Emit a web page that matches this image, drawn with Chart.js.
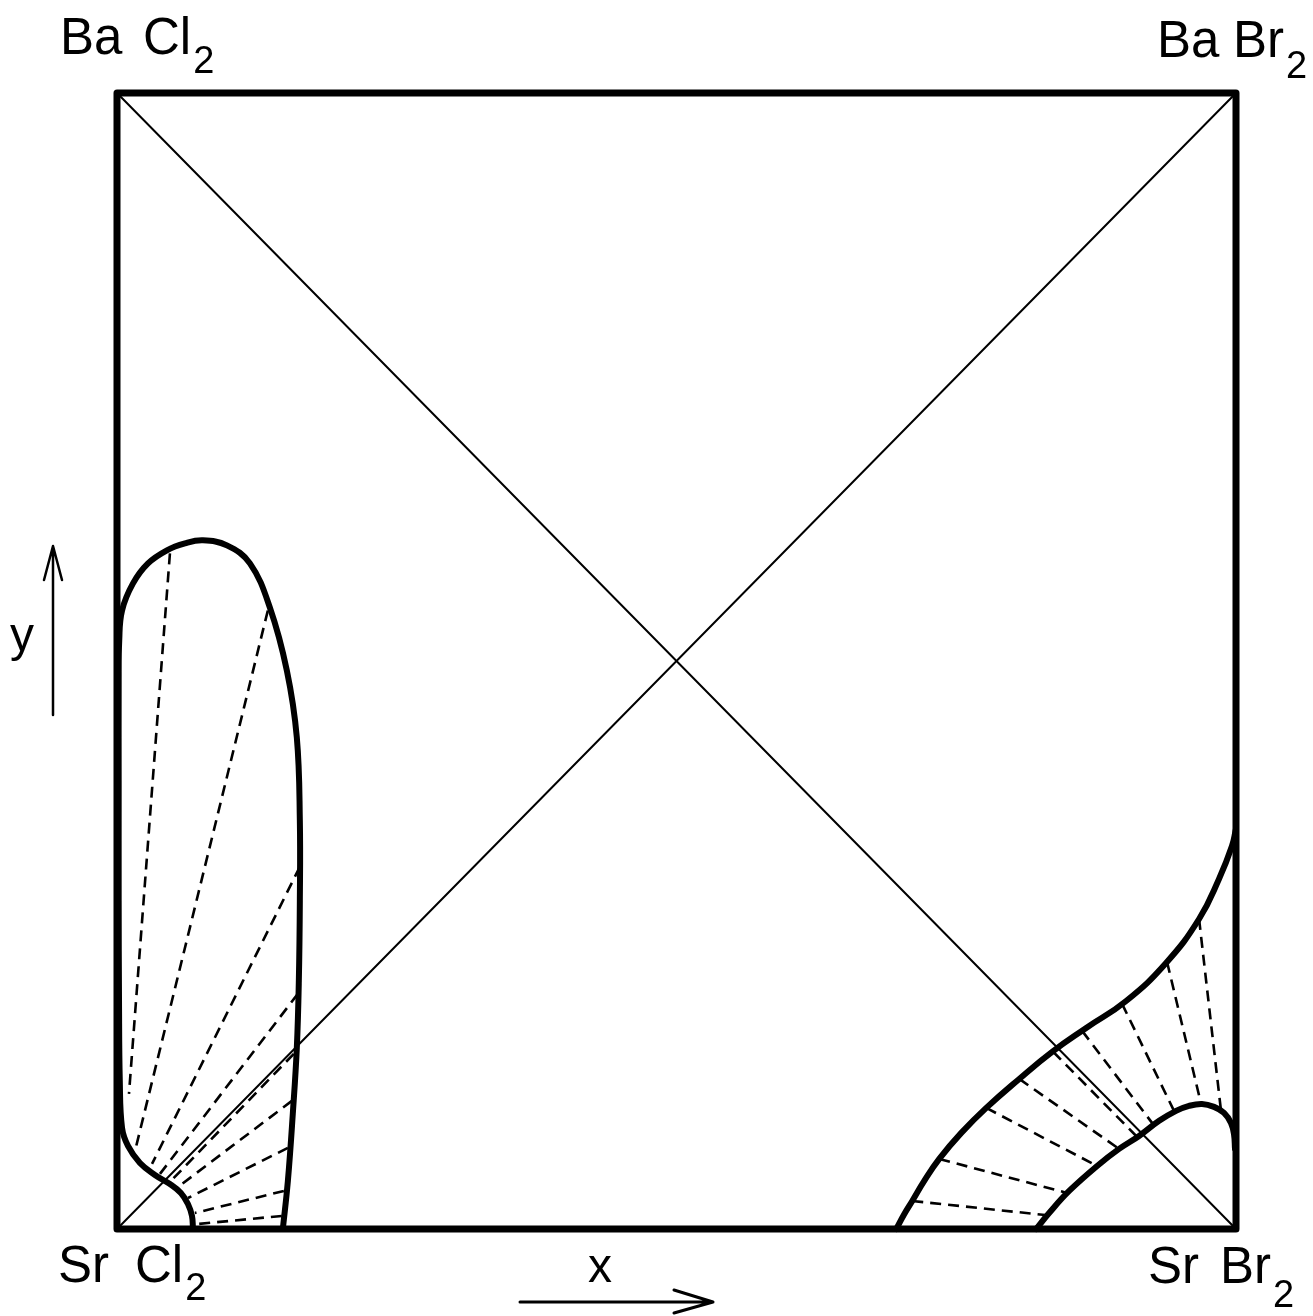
<!DOCTYPE html>
<html>
<head>
<meta charset="utf-8">
<title>BaCl2 - BaBr2 - SrCl2 - SrBr2</title>
<script src="https://cdn.jsdelivr.net/npm/chart.js@4.4.1/dist/chart.umd.min.js"></script>
<style>
  html, body { margin: 0; padding: 0; background: #fff; }
  #wrap { width: 1313px; height: 1316px; }
</style>
</head>
<body>
<div id="wrap"><canvas id="chartCanvas" width="1313" height="1316"></canvas></div>
<script>
// Corner compounds of the reciprocal square: [metal, halide]
var cornerNames = [["Ba", "Cl"], ["Ba", "Br"], ["Sr", "Cl"], ["Sr", "Br"]];

// Miscibility gap near SrCl2 (x = Br fraction, y = Ba fraction)
var leftLobe = [
  [0.0679, 0.0000], [0.0670, 0.0115], [0.0634, 0.0220], [0.0571, 0.0317],
  [0.0473, 0.0396], [0.0339, 0.0476], [0.0205, 0.0581], [0.0098, 0.0731],
  [0.0045, 0.0890], [0.0025, 0.1304], [0.0018, 0.2009], [0.0015, 0.2890],
  [0.0015, 0.3947], [0.0015, 0.4828], [0.0020, 0.5181], [0.0045, 0.5445],
  [0.0143, 0.5683], [0.0277, 0.5859], [0.0446, 0.5974], [0.0607, 0.6035],
  [0.0768, 0.6062], [0.0982, 0.6018], [0.1188, 0.5859], [0.1366, 0.5471],
  [0.1518, 0.4916], [0.1607, 0.4326], [0.1634, 0.3595], [0.1634, 0.2890],
  [0.1625, 0.2185], [0.1607, 0.1595], [0.1571, 0.1013], [0.1527, 0.0423],
  [0.1482, 0.0000]
];

// Miscibility gap near SrBr2: outer and inner boundaries
var rightOuter = [
  [0.6964, 0.0000], [0.7036, 0.0132], [0.7107, 0.0247], [0.7214, 0.0423],
  [0.7348, 0.0617], [0.7545, 0.0846], [0.7768, 0.1066], [0.8063, 0.1321],
  [0.8357, 0.1560], [0.8661, 0.1770], [0.9018, 0.2007], [0.9375, 0.2342],
  [0.9670, 0.2729], [0.9848, 0.3081], [0.9964, 0.3371], [1.0000, 0.3524]
];
var rightInner = [
  [0.8214, 0.0000], [0.8330, 0.0141], [0.8509, 0.0335], [0.8759, 0.0555],
  [0.8955, 0.0705], [0.9134, 0.0819], [0.9313, 0.0952], [0.9464, 0.1040],
  [0.9580, 0.1084], [0.9696, 0.1101], [0.9804, 0.1075], [0.9893, 0.1022],
  [0.9955, 0.0934], [0.9982, 0.0837], [0.9991, 0.0705]
];

// Tie lines, each [x1, y1, x2, y2]
var leftTies = [
  [0.0473, 0.5947, 0.0107, 0.1189],
  [0.1348, 0.5445, 0.0161, 0.0687],
  [0.1634, 0.3189, 0.0313, 0.0573],
  [0.1616, 0.2070, 0.0384, 0.0485],
  [0.1580, 0.1542, 0.0473, 0.0414],
  [0.1563, 0.1128, 0.0545, 0.0370],
  [0.1527, 0.0714, 0.0634, 0.0273],
  [0.1491, 0.0335, 0.0696, 0.0141],
  [0.1473, 0.0115, 0.0723, 0.0044]
];
var rightTies = [
  [0.7107, 0.0247, 0.8295, 0.0123],
  [0.7348, 0.0617, 0.8491, 0.0317],
  [0.7768, 0.1066, 0.8759, 0.0555],
  [0.8063, 0.1321, 0.8955, 0.0705],
  [0.8366, 0.1560, 0.9116, 0.0811],
  [0.8625, 0.1744, 0.9250, 0.0934],
  [0.8982, 0.1982, 0.9446, 0.1040],
  [0.9384, 0.2350, 0.9688, 0.1101],
  [0.9670, 0.2729, 0.9866, 0.1040]
];
// Tie lines lying on the binary edges
var edgeTies = [
  [0.0048, 0.4700, 0.0048, 0.2200],
  [0.0723, 0.0035, 0.1473, 0.0035],
  [0.6990, 0.0035, 0.8190, 0.0035],
  [0.9965, 0.3300, 0.9965, 0.0950]
];

function toPoints(list) {
  return list.map(function(p) { return { x: p[0], y: p[1] }; });
}

function solid(points, width, tension) {
  return {
    data: points,
    borderColor: '#000',
    borderWidth: width,
    tension: tension,
    pointRadius: 0,
    fill: false,
    clip: false,
    borderCapStyle: 'round',
    borderJoinStyle: 'round'
  };
}

function dashed(t, color, width, dash) {
  return {
    data: [{ x: t[0], y: t[1] }, { x: t[2], y: t[3] }],
    borderColor: color,
    borderWidth: width,
    borderDash: dash,
    pointRadius: 0,
    fill: false,
    clip: false
  };
}

var datasets = [];
datasets.push(solid(toPoints([[0, 0], [1, 0], [1, 1], [0, 1], [0, 0]]), 7, 0));
datasets.push(solid(toPoints([[0, 0], [1, 1]]), 2, 0));
datasets.push(solid(toPoints([[0, 1], [1, 0]]), 2, 0));
leftTies.concat(rightTies).forEach(function(t) { datasets.push(dashed(t, '#000', 2.6, [11, 7])); });
datasets.push(solid(toPoints(leftLobe), 6, 0.4));
datasets.push(solid(toPoints(rightOuter), 6, 0.45));
datasets.push(solid(toPoints(rightInner), 6, 0.4));
edgeTies.forEach(function(t) { datasets.push(dashed(t, '#fff', 1.2, [9, 7])); });

// Corner formulas and the x / y arrows
var annotations = {
  id: 'annotations',
  afterDraw: function(chart) {
    var ctx = chart.ctx;
    var a = chart.chartArea;
    var font = '"Liberation Sans", Arial, sans-serif';
    // metal x, halide x, baseline, subscript drop
    var spots = [
      [a.left - 57, a.left + 26, a.top - 39, 19],
      [a.right - 79, a.right - 3, a.top - 36, 21],
      [a.left - 59, a.left + 18, a.bottom + 53, 18],
      [a.right - 88, a.right - 16, a.bottom + 54, 24]
    ];
    ctx.save();
    ctx.fillStyle = '#000';
    ctx.strokeStyle = '#000';
    ctx.textBaseline = 'alphabetic';
    spots.forEach(function(s, i) {
      ctx.font = '51px ' + font;
      ctx.fillText(cornerNames[i][0], s[0], s[2]);
      ctx.fillText(cornerNames[i][1], s[1], s[2]);
      var w = ctx.measureText(cornerNames[i][1]).width;
      ctx.font = '38px ' + font;
      ctx.fillText('2', s[1] + w + 2, s[2] + s[3]);
    });

    ctx.font = '48px ' + font;
    ctx.fillText('y', 10, 651);
    ctx.fillText('x', 588, 1282);

    ctx.lineWidth = 2.5;
    ctx.lineCap = 'round';
    ctx.lineJoin = 'round';
    ctx.beginPath();
    ctx.moveTo(53, 715);
    ctx.lineTo(53, 546);
    ctx.moveTo(44, 580);
    ctx.lineTo(53, 546);
    ctx.lineTo(62, 580);
    ctx.stroke();

    ctx.lineWidth = 3;
    ctx.beginPath();
    ctx.moveTo(520, 1302);
    ctx.lineTo(713, 1302);
    ctx.moveTo(674, 1290);
    ctx.lineTo(713, 1302);
    ctx.lineTo(674, 1313);
    ctx.stroke();
    ctx.restore();
  }
};

var chart = new Chart(document.getElementById('chartCanvas'), {
  type: 'line',
  data: { datasets: datasets },
  options: {
    responsive: false,
    animation: false,
    layout: { padding: { left: 117, right: 77, top: 93, bottom: 87 } },
    plugins: { legend: { display: false }, tooltip: { enabled: false } },
    scales: {
      x: { type: 'linear', min: 0, max: 1, display: false },
      y: { type: 'linear', min: 0, max: 1, display: false }
    }
  },
  plugins: [annotations]
});
</script>
</body>
</html>
